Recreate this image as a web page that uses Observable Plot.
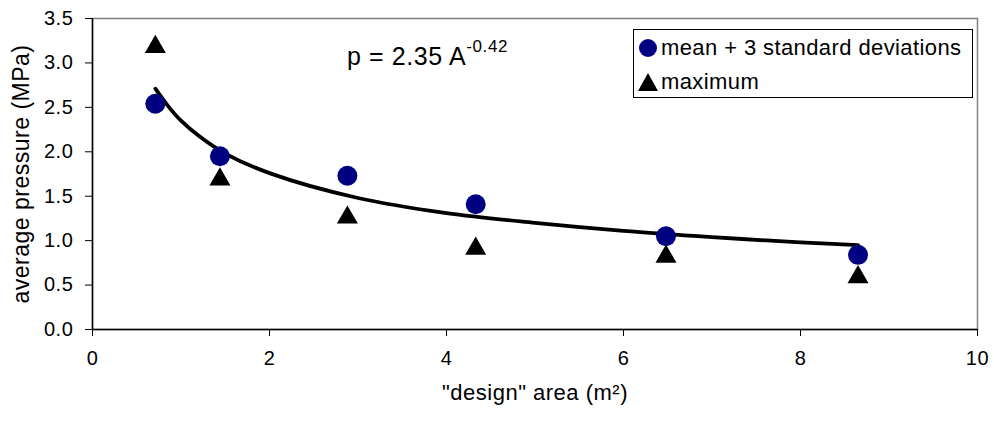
<!DOCTYPE html>
<html>
<head>
<meta charset="utf-8">
<script src="https://cdn.jsdelivr.net/npm/d3@7"></script>
<script src="https://cdn.jsdelivr.net/npm/@observablehq/plot@0.6"></script>
<style>
  html, body { margin: 0; padding: 0; background: #fff; }
  #wrap { position: relative; width: 994px; height: 422px; font-family: "Liberation Sans", Arial, sans-serif; }
  #legend { position: absolute; left: 633px; top: 29px; width: 338px; height: 67px; border: 1px solid #000; background: #fff; font-size: 22px; letter-spacing: 0.4px; }
  .item { position: absolute; left: 0; height: 30px; display: flex; align-items: center; white-space: nowrap; }
  .item svg { margin-left: 4px; margin-right: 3px; }
  #eq { position: absolute; left: 347px; top: 41px; font-size: 25px; letter-spacing: 0.6px; white-space: nowrap; }
  #eq sup { font-size: 17px; position: relative; top: -4px; }
  g[aria-label="x-axis label"] text, g[aria-label="y-axis label"] text { letter-spacing: 0.5px; }
  g[aria-label="x-axis tick label"] text, g[aria-label="y-axis tick label"] text { letter-spacing: 0.6px; }
</style>
</head>
<body>
<div id="wrap">
  <div id="chart"></div>
  <div id="eq">p = 2.35 A<sup>-0.42</sup></div>
  <div id="legend">
    <div class="item" style="top:3px"><svg width="20" height="20"><circle cx="10" cy="10" r="9" fill="#000080"/></svg><span>mean + 3 standard deviations</span></div>
    <div class="item" style="top:37px"><svg width="20" height="20"><path d="M10,1 L20,19 L0,19 Z" fill="#000"/></svg><span>maximum</span></div>
  </div>
</div>
<script>
// design area (m^2)
const area = [0.71, 1.44, 2.88, 4.33, 6.48, 8.65];
// mean + 3 standard deviations (MPa)
const meanPlus3SD = [2.54, 1.95, 1.73, 1.41, 1.05, 0.84];
// maximum (MPa)
const maximum = [3.18, 1.69, 1.26, 0.91, 0.82, 0.59];
// power trend line p = 2.35 A^-0.42
const trendArea = [0.71, 0.85, 1.0, 1.2, 1.5, 2, 3, 4, 5, 6, 7, 8, 8.65];
const trendP = [2.71, 2.52, 2.35, 2.18, 1.98, 1.76, 1.48, 1.31, 1.20, 1.11, 1.04, 0.98, 0.95];
const xTicks = [0, 2, 4, 6, 8, 10];
const yTicks = [0, 0.5, 1.0, 1.5, 2.0, 2.5, 3.0, 3.5];

const meanData = area.map((a, i) => ({a, p: meanPlus3SD[i]}));
const maxData = area.map((a, i) => ({a, p: maximum[i]}));
const trendData = trendArea.map((a, i) => ({a, p: trendP[i]}));

const chart = Plot.plot({
  width: 994,
  height: 422,
  marginLeft: 92,
  marginRight: 17,
  marginTop: 18,
  marginBottom: 93,
  style: {fontFamily: '"Liberation Sans", Arial, sans-serif', fontSize: "20px", background: "#fff", color: "#000"},
  x: {domain: [0, 10]},
  y: {domain: [0, 3.5]},
  marks: [
    Plot.frame({stroke: "#808080", strokeWidth: 1.5}),
    Plot.axisX({ticks: xTicks, tickSize: 7, tickPadding: 14, tickFormat: d => String(d), fontSize: 20, label: null}),
    Plot.axisX({ticks: [], tickSize: 0, label: "\"design\" area (m²)", labelAnchor: "center", labelArrow: "none", labelOffset: 70, fontSize: 22}),
    Plot.axisY({ticks: yTicks, tickSize: 7, tickPadding: 12, tickFormat: d3.format(".1f"), fontSize: 20, label: null}),
    Plot.axisY({ticks: [], tickSize: 0, label: "average pressure (MPa)", labelAnchor: "center", labelArrow: "none", labelOffset: 80, fontSize: 23}),
    Plot.ruleX([0], {stroke: "#000", strokeWidth: 1.5}),
    Plot.ruleY([0], {stroke: "#000", strokeWidth: 1.5}),
    Plot.line(trendData, {x: "a", y: "p", curve: "catmull-rom", stroke: "#000", strokeWidth: 3.8}),
    Plot.dot(meanData, {x: "a", y: "p", r: 10, fill: "#000080", stroke: "none"}),
    Plot.dot(maxData, {x: "a", y: "p", r: 7.8, symbol: "triangle", fill: "#000", stroke: "none"})
  ]
});
document.getElementById("chart").appendChild(chart);
</script>
</body>
</html>
